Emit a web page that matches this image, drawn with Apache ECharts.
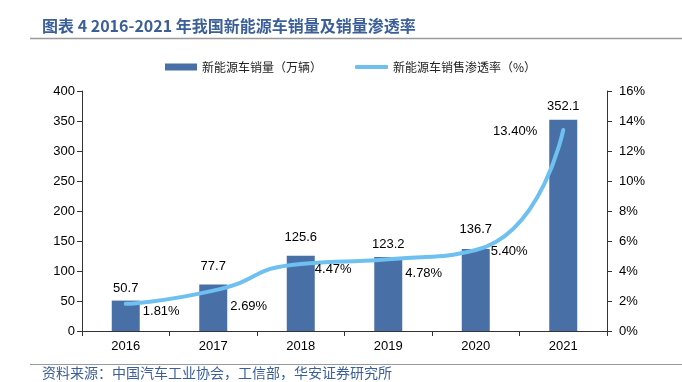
<!DOCTYPE html>
<html><head><meta charset="utf-8">
<script src="https://cdn.jsdelivr.net/npm/echarts@6/dist/echarts.min.js"></script>
<style>html,body{margin:0;padding:0;background:#fff}#c{width:682px;height:382px}</style>
</head><body><div id="c"></div>
<script>
const years = ['2016','2017','2018','2019','2020','2021'];
const sales = [50.7, 77.7, 125.6, 123.2, 136.7, 352.1];
const penetration = [1.81, 2.69, 4.47, 4.78, 5.40, 13.40];
const leftTicks = [0, 50, 100, 150, 200, 250, 300, 350, 400];
const rightTicks = [0, 2, 4, 6, 8, 10, 12, 14, 16];
const titleText = '图表 4 2016-2021 年我国新能源车销量及销量渗透率';
const sourceText = '资料来源：中国汽车工业协会，工信部，华安证券研究所';
const barName = '新能源车销量（万辆）';
const lineName = '新能源车销售渗透率（%）';

const barLabelOffsets = [[0,-1],[0,-6],[0,-7],[0,-1],[0,-8],[0,-2]];
const lineLabelCfg = [
  {position:'right', offset:[12,8]},
  {position:'right', offset:[12,16]},
  {position:'right', offset:[9,5]},
  {position:'right', offset:[12,14]},
  {position:'right', offset:[10,1]},
  {position:'left', offset:[-21,1]}
];
const font = '"Liberation Sans", Arial, sans-serif';
const cjk = '"Noto Sans CJK SC", sans-serif';

const chart = echarts.init(document.getElementById('c'));
chart.setOption({
  animation: false,
  textStyle: {fontFamily: font},
  grid: {left: 82, right: 75, top: 91, bottom: 51},
  graphic: [
    {type:'text', left: 42, top: 18, style:{text: titleText, font: 'bold 16px ' + cjk, fill:'#3B5F98'}},
    {type:'line', shape:{x1:30, y1:38.5, x2:682, y2:38.5}, style:{stroke:'#9a9a9a', lineWidth:1.5}},
    {type:'line', shape:{x1:30, y1:364.5, x2:682, y2:364.5}, style:{stroke:'#9a9a9a', lineWidth:1}},
    {type:'text', left: 42, top: 366, style:{text: sourceText, font: '14px ' + cjk, fill:'#3B5F98'}}
  ],
  legend: [
    {left: 160, top: 56, itemWidth: 32, itemHeight: 7,
     textStyle: {fontFamily: cjk, fontSize: 12, color: '#222'},
     data: [{name: barName, icon: 'rect'}]},
    {left: 350, top: 56, itemWidth: 33, itemHeight: 4, itemGap: 5,
     textStyle: {fontFamily: cjk, fontSize: 12, color: '#222'},
     data: [{name: lineName, icon: 'roundRect'}]}
  ],
  xAxis: {
    type: 'category', data: years,
    axisLine: {lineStyle: {color: '#333', width: 1}},
    axisTick: {show: true, length: 5, alignWithLabel: false, lineStyle:{color:'#333'}},
    axisLabel: {color: '#000', fontSize: 13, margin: 9, fontFamily: font}
  },
  yAxis: [
    {type: 'value', min: 0, max: 400, interval: 50,
     axisLine: {show: true, lineStyle: {color: '#333'}},
     axisTick: {show: true, length: 5, lineStyle:{color:'#333'}},
     splitLine: {show: false},
     axisLabel: {color: '#000', fontSize: 13, margin: 7, fontFamily: font,
       formatter: v => leftTicks.includes(v) ? String(v) : ''}},
    {type: 'value', min: 0, max: 16, interval: 2, position: 'right',
     axisLine: {show: true, lineStyle: {color: '#333'}},
     axisTick: {show: true, length: 5, lineStyle:{color:'#333'}},
     splitLine: {show: false},
     axisLabel: {color: '#000', fontSize: 13, margin: 12, fontFamily: font,
       formatter: v => rightTicks.includes(v) ? v + '%' : ''}}
  ],
  series: [
    {name: barName, type: 'bar', barWidth: 28, yAxisIndex: 0,
     itemStyle: {color: '#4870A6'},
     data: sales.map((v, i) => ({value: v, label: {offset: barLabelOffsets[i]}})),
     label: {show: true, position: 'top', distance: 5, color: '#000', fontSize: 13, fontFamily: font,
       formatter: p => p.value.toFixed(1)}},
    {name: lineName, type: 'line', yAxisIndex: 1, smooth: 0.6, symbol: 'circle', symbolSize: 0.1, showSymbol: true,
     lineStyle: {color: '#6EC0F0', width: 4, cap: 'round'},
     itemStyle: {color: '#6EC0F0'},
     data: penetration.map((v, i) => ({value: v, label: {show: true, position: lineLabelCfg[i].position, offset: lineLabelCfg[i].offset}})),
     label: {show: true, color: '#000', fontSize: 13, fontFamily: font, distance: 5,
       formatter: p => p.value.toFixed(2) + '%'},
     z: 5}
  ]
});
</script></body></html>
